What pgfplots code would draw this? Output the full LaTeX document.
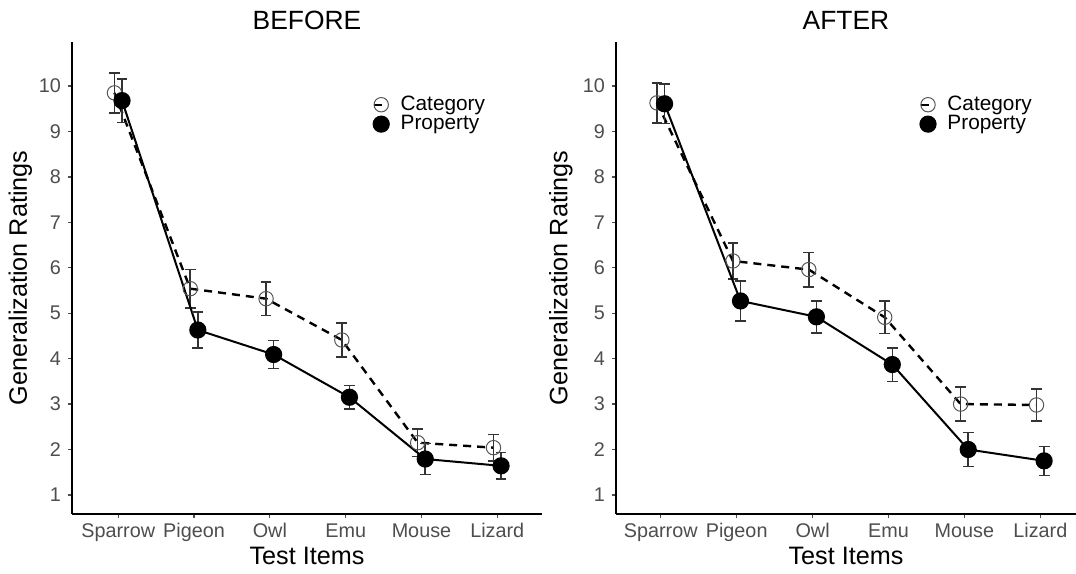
\documentclass[border=0pt]{standalone}
\usepackage{fontspec}
\setmainfont{Liberation Sans}
\usepackage{pgfplots}
\pgfplotsset{compat=1.18}
\definecolor{tickgray}{HTML}{4D4D4D}
\definecolor{errgray}{HTML}{333333}
\definecolor{circgray}{HTML}{555555}

\pgfplotsset{
  panel/.style={
    scale only axis, height=236pt,
    axis lines=left, axis line style={-, line width=1.1pt, black},
    tick align=outside, major tick length=2pt,
    tick style={line width=0.6pt, tickgray},
    ymin=0.58, ymax=10.97, ytick={1,...,10},
    xtick={1,...,6}, xticklabels={Sparrow,Pigeon,Owl,Emu,Mouse,Lizard},
    ticklabel style={font=\fontsize{9.9}{11}\selectfont, text=tickgray},
    xticklabel style={text height=7pt, text depth=2pt, yshift=1pt},
    /pgf/number format/assume math mode=true,
    label style={font=\fontsize{12.6}{14}\selectfont},
    xlabel={Test Items}, ylabel={Generalization Ratings},
    xlabel style={at={(axis description cs:0.5,0)}, anchor=center, yshift=-21pt},
    legend style={draw=none, fill=none, font=\fontsize{10.4}{11}\selectfont, anchor=north west,
      row sep=-3pt, inner sep=0pt, nodes={inner sep=2pt}},
    legend cell align=left,
    legend image code/.code={\draw[mark repeat=2,mark phase=2,#1] plot coordinates {(-0.12cm,0cm) (0cm,0cm) (0.12cm,0cm)}; \path (0.25cm,0cm);},
    clip=false,
  },
  catplot/.style={black, line width=1.2pt, dash pattern=on 4pt off 3pt, mark=o, mark size=3.6pt,
    mark options={solid, circgray, line width=0.5pt, fill=none},
    error bars/.cd, y dir=both, y explicit,
    error bar style={errgray, line width=0.8pt, solid},
    error mark options={errgray, rotate=90, mark size=2.7pt, line width=0.8pt, solid}},
  propplot/.style={black, line width=1pt, solid, mark=*, mark size=3.8pt,
    mark options={solid, black},
    error bars/.cd, y dir=both, y explicit,
    error bar style={errgray, line width=0.8pt, solid},
    error mark options={errgray, rotate=90, mark size=2.7pt, line width=0.8pt, solid}},
}

\begin{document}
\begin{tikzpicture}
\path[use as bounding box] (0,0) rectangle (538pt,286.5pt);

\begin{axis}[panel, at={(36pt,29.5pt)}, anchor=south west, width=235pt,
  xmin=0.39, xmax=6.59,
  ylabel style={at={(axis description cs:-0.11,0.5)}, anchor=center},
  legend style={at={(axis description cs:0.64,0.895)}}]
\addplot[catplot] coordinates {
  (0.95,9.85) +- (0,0.44)
  (1.95,5.54) +- (0,0.42)
  (2.95,5.32) +- (0,0.37)
  (3.95,4.41) +- (0,0.37)
  (4.95,2.15) +- (0,0.30)
  (5.95,2.04) +- (0,0.29)
};
\addlegendentry{Category}
\addplot[propplot] coordinates {
  (1.05,9.68) +- (0,0.48)
  (2.05,4.63) +- (0,0.40)
  (3.05,4.09) +- (0,0.31)
  (4.05,3.15) +- (0,0.26)
  (5.05,1.79) +- (0,0.34)
  (6.05,1.64) +- (0,0.29)
};
\addlegendentry{Property}
\node[font=\fontsize{13.2}{15}\selectfont, anchor=center, yshift=11pt] at (rel axis cs:0.5,1) {BEFORE};
\end{axis}

\begin{axis}[panel, at={(308pt,29.5pt)}, anchor=south west, width=230pt,
  xmin=0.41, xmax=6.47,
  ylabel style={at={(axis description cs:-0.12,0.5)}, anchor=center},
  legend style={at={(axis description cs:0.66,0.895)}}]
\addplot[catplot] coordinates {
  (0.95,9.63) +- (0,0.44)
  (1.95,6.15) +- (0,0.40)
  (2.95,5.96) +- (0,0.38)
  (3.95,4.91) +- (0,0.36)
  (4.95,3.00) +- (0,0.37)
  (5.95,2.98) +- (0,0.35)
};
\addlegendentry{Category}
\addplot[propplot] coordinates {
  (1.05,9.61) +- (0,0.43)
  (2.05,5.27) +- (0,0.44)
  (3.05,4.92) +- (0,0.35)
  (4.05,3.87) +- (0,0.37)
  (5.05,2.00) +- (0,0.37)
  (6.05,1.75) +- (0,0.32)
};
\addlegendentry{Property}
\node[font=\fontsize{13.2}{15}\selectfont, anchor=center, yshift=11pt] at (rel axis cs:0.5,1) {AFTER};
\end{axis}
\end{tikzpicture}
\end{document}
